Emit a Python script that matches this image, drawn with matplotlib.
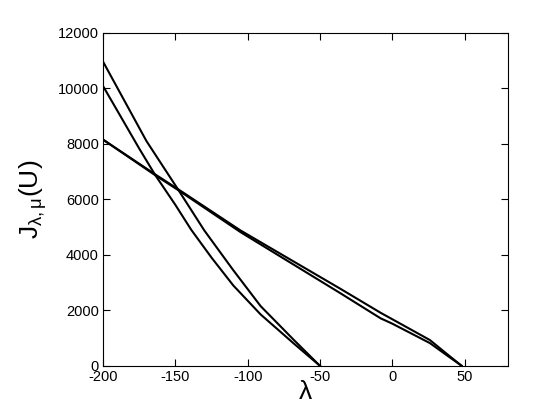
import matplotlib
matplotlib.use("Agg")
import matplotlib.pyplot as plt

plt.rcParams["font.family"] = ["Liberation Sans", "DejaVu Sans"]
plt.rcParams["mathtext.fontset"] = "custom"
plt.rcParams["mathtext.rm"] = "Liberation Sans"
plt.rcParams["mathtext.it"] = "Liberation Sans"
plt.rcParams["axes.unicode_minus"] = False

# -*- curves ending near lambda = -50
lam_a1 = [-200, -170, -148, -130, -110, -91, -68, -50]
J_a1 = [10960, 8100, 6345, 4880, 3450, 2150, 930, 0]

lam_a2 = [-200, -175, -164, -150, -139, -125, -110, -91, -68, -50]
J_a2 = [10080, 7830, 6880, 5800, 4900, 3900, 2900, 1850, 800, 0]

# -*- curves ending near lambda = 48
lam_b1 = [-200, -164, -148, -105, -84, -36, -8, 0, 26, 38, 48]
J_b1 = [8150, 6900, 6360, 4880, 4240, 2780, 1910, 1680, 930, 420, 0]

lam_b2 = [-200, -164, -148, -105, -84, -36, -8, 0, 26, 38, 48]
J_b2 = [8150, 6870, 6330, 4820, 4150, 2620, 1710, 1520, 820, 370, 0]

xticks = [-200, -150, -100, -50, 0, 50]
yticks = [0, 2000, 4000, 6000, 8000, 10000, 12000]

fig = plt.figure(figsize=(5.6, 4.2), dpi=100)
ax = fig.add_axes([0.184, 0.129, 0.723, 0.793])

for lam, J in [(lam_a1, J_a1), (lam_a2, J_a2), (lam_b1, J_b1), (lam_b2, J_b2)]:
    ax.plot(lam, J, color="black", lw=1.5)

ax.set_xlim(-200, 80)
ax.set_ylim(0, 12000)
ax.set_xticks(xticks)
ax.set_yticks(yticks)
ax.tick_params(direction="in", length=5, width=0.8, labelsize=10.5,
               top=True, right=True, pad=3)
for s in ax.spines.values():
    s.set_linewidth(0.8)

ax.set_xlabel("λ", fontsize=19, labelpad=-3)
ax.set_ylabel(r"$\mathrm{J}_{\mathrm{λ,μ}}\mathrm{(U)}$", fontsize=19, labelpad=6)

fig.savefig("out.png", dpi=100)
